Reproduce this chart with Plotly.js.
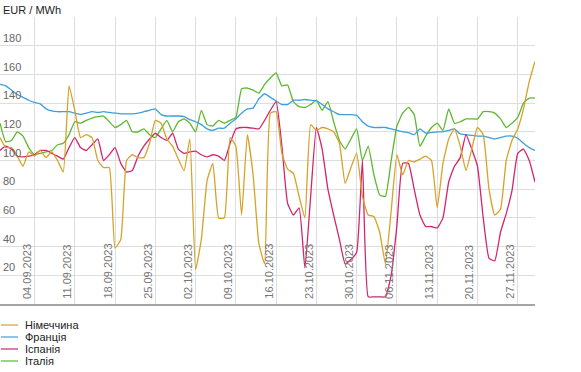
<!DOCTYPE html>
<html>
<head>
<meta charset="utf-8">
<script src="https://cdn.plot.ly/plotly-3.0.1.min.js"></script>
<style>html,body{margin:0;padding:0;background:#fff;}#chart{width:581px;height:372px;}</style>
</head>
<body>
<div id="chart"></div>
<script>
// Daily prices from 29.08.2023 to 30.11.2023 (EUR / MWh)
var startDate = '2023-08-29';
var seriesNames = ['Німеччина', 'Франція', 'Іспанія', 'Італія'];
var seriesColors = ['#d7a228', '#3e9fdc', '#d3246e', '#5cb830'];

var germany = [116,109,109,103,96,106,103,107,102,106,100,92,152,135,116,118,116,100,95,95,
  39,45,100,104,102,102,112,128,126,115,110,101,93,115,24,45,86,98,60,60,
  116,110,62,118,90,42,28,133,134,105,94,91,75,60,125,121,123,122,120,112,
  84,95,105,75,62,61,50,28,65,104,90,100,99,101,103,100,67,98,115,122,
  110,93,108,123,118,80,62,66,100,114,122,136,155,169];

var france = [153,152,149,146,144,142,140.5,139.5,136,134.5,134,134,134,133,132,133,134,133.5,134,133.5,
  133,132.5,132.5,132.5,133,134,135,136,132,131,131,131,130.5,128.5,127,125,122,121,122.5,122.5,
  126,129,133,136,136.5,143,146.5,144,141.5,139,139,142,142,142.5,142,141.5,139,136,134,132,
  132,132,131.5,127,124,123,123,123,122,121,120,119.5,118,122,119,119.5,120,120,121,122,
  118.5,118,117.5,117,117,116,115,116,117,117,115.5,112,109,107];

var spain = [107,110,108,103,102.5,103,104,107,107,105,103,101,109,116,109,107,111,115,100,104,
  109,98,92,93,103,110,115,119,116,114,119,108,105,106,106.5,104,102.5,104,103,100,
  112,122,123,123,122.5,122,128,135,141,110,70,62,67,25,75,123,108,80,62,45,
  28,31,36,100,5,5,5,5,20,55,98,98,80,62,54,54,53,60,85,96,
  102,118,108,96,60,32,30,50,63,79,105,108,100,85];

var italy = [126,113,114,120,117,109,104,105,106,107,111,112,118,127,126,128,129.6,130.5,131,127,
  123,125,128,120,120,122,118,116,122,128,120,127,129,126,120,135,125,124,128,126,
  128,130,150,150.5,149,147,153,157.5,161,152,152.6,141,137.5,137,139,142,135,141,127,114,
  108,115,122,100,110,90,76,75,100,124,133,137,132,110,117,123,126,121,136,126,
  127,129,129,129,134,134,133,129,123,126,130,140,143.5,143.5];

var yTickVals = [0,20,40,60,80,100,120,140,160,180,200];
var yTickText = ['','20','40','60','80','100','120','140','160','180',''];
var xTickDates = ['2023-09-04','2023-09-11','2023-09-18','2023-09-25','2023-10-02','2023-10-09',
  '2023-10-16','2023-10-23','2023-10-30','2023-11-06','2023-11-13','2023-11-20','2023-11-27'];
var xRange = ['2023-08-29', '2023-11-30'];

function dates(n) {
  var out = [];
  var d0 = new Date(startDate + 'T00:00:00Z');
  for (var i = 0; i < n; i++) {
    var d = new Date(d0.getTime() + i * 86400000);
    out.push(d.toISOString().slice(0, 10));
  }
  return out;
}
function fmtDate(s) { var p = s.split('-'); return p[2] + '.' + p[1] + '.' + p[0]; }

var allSeries = [germany, france, spain, italy];
var traces = allSeries.map(function (vals, i) {
  return {
    type: 'scatter', mode: 'lines',
    x: dates(vals.length), y: vals,
    name: seriesNames[i],
    line: {color: seriesColors[i], width: 1.3, shape: 'spline', smoothing: 0.4},
    showlegend: false, hoverinfo: 'skip'
  };
});
traces = [traces[3], traces[1], traces[2], traces[0]];

var W = 581, H = 372, mT = 17, mB = 68, mL = 0, mR = 46;
var plotH = H - mT - mB;
var FONT = 'Liberation Sans, Arial, sans-serif';
var shapes = [], annotations = [];
seriesNames.forEach(function (name, i) {
  var rowPx = 325 + i * 12;
  var yp = -(rowPx - (H - mB)) / plotH;
  shapes.push({type: 'line', xref: 'paper', yref: 'paper', x0: 1 / 535, x1: 18 / 535, y0: yp, y1: yp,
    line: {color: seriesColors[i], width: 1.2}});
  annotations.push({xref: 'paper', yref: 'paper', x: 23 / 535, y: yp, xanchor: 'left', yanchor: 'middle',
    text: name, showarrow: false, font: {family: FONT, size: 11, color: '#222'}});
});
// x tick labels, rotated, drawn inside the plot just left of each grid line
xTickDates.forEach(function (d) {
  annotations.push({xref: 'x', yref: 'paper', x: d, y: 4 / plotH, xanchor: 'right', yanchor: 'bottom',
    xshift: -1, textangle: -90, text: fmtDate(d), showarrow: false,
    font: {family: FONT, size: 11, color: '#777'}, borderpad: 0});
});

var layout = {
  width: W, height: H,
  margin: {l: mL, r: mR, t: mT, b: mB, pad: 0, autoexpand: false},
  paper_bgcolor: '#fff', plot_bgcolor: '#fff',
  font: {family: FONT, size: 11, color: '#666'},
  title: {text: 'EUR / MWh', xref: 'container', yref: 'container', x: 3 / W, y: 1 - 10 / H,
    xanchor: 'left', yanchor: 'middle', font: {size: 11, color: '#222'}},
  xaxis: {
    type: 'date', range: xRange,
    tickvals: xTickDates, showticklabels: false, ticks: '',
    showgrid: true, gridcolor: '#dedede', gridwidth: 1,
    showline: true, linecolor: '#a5a5a5', linewidth: 2,
    zeroline: false
  },
  yaxis: {
    range: [0, 200], tickvals: yTickVals, ticktext: yTickText,
    ticklabelposition: 'inside top', ticks: '',
    showgrid: true, gridcolor: '#dedede', gridwidth: 1,
    zeroline: false, showline: false, tickfont: {size: 11, color: '#666'}
  },
  shapes: shapes, annotations: annotations, showlegend: false
};

Plotly.newPlot('chart', traces, layout, {staticPlot: true, displayModeBar: false});
</script>
</body>
</html>
